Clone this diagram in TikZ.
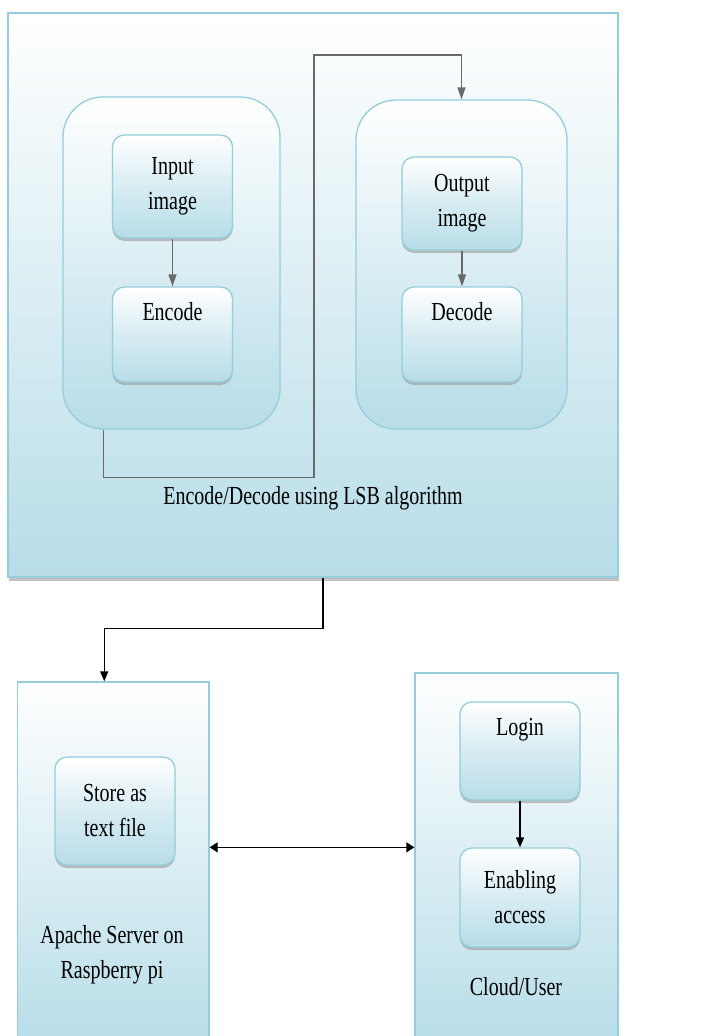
\documentclass[tikz,border=0pt]{standalone}
\usepackage{fontspec}
\setmainfont{Liberation Serif}
\usepackage{graphicx}
\usetikzlibrary{arrows.meta,shadows}
\definecolor{paleblue}{RGB}{183,221,232}
\definecolor{edgeblue}{RGB}{150,205,220}
\definecolor{linegray}{RGB}{105,105,105}
\newcommand{\tall}[1]{\scalebox{1}[1.3]{#1}}

\begin{document}
\begin{tikzpicture}
[x=1pt,y=-1pt,
panel/.style={draw=edgeblue,line width=1.3pt,top color=white,bottom color=paleblue,inner sep=0pt},
group/.style={panel,rounded corners=40pt},
item/.style={panel,rounded corners=12pt,minimum width=120pt,font=\fontsize{20}{35}\selectfont,
  top color=white,bottom color=paleblue,middle color=white!45!paleblue,
  drop shadow={shadow xshift=0pt,shadow yshift=-3pt,fill=black!40,opacity=.6}},
caption/.style={font=\fontsize{20}{35}\selectfont,align=center},
flow/.style={draw=linegray,line width=1.3pt,-{Triangle[length=12pt,width=8pt]}},
link/.style={draw=black,line width=1.3pt,-{Triangle[length=10pt,width=8pt]}}]
\clip (0,0) rectangle (724,1036);

% encoding / decoding block
\node[panel,minimum width=610pt,minimum height=564pt,
  drop shadow={shadow xshift=1pt,shadow yshift=-4pt,fill=black!40,opacity=.6}] (lsb) at (313,295) {};
\node[group,minimum width=217pt,minimum height=332pt] (enc) at (171.5,263) {};
\node[group,minimum width=211pt,minimum height=329pt] (dec) at (461.5,264.5) {};
\node[item,align=center,minimum height=103pt] (inp) at (172.5,186.5) {\tall{Input}\\\tall{image}};
\node[item,text height=33pt,text depth=62pt] (encd) at (172.5,334.5) {\tall{Encode}};
\node[item,align=center,minimum height=93pt] (outp) at (462,203.5) {\tall{Output}\\\tall{image}};
\node[item,text height=33pt,text depth=62pt] (decd) at (462,334.5) {\tall{Decode}};
\node[caption] (lsbtxt) at (313,498) {\tall{Encode/Decode using LSB algorithm}};

% server and user
\node[panel,minimum width=191.5pt,minimum height=364pt] (srv) at (113.25,864) {};
\node[item,align=center,minimum height=108pt] (store) at (115,811) {\tall{Store as}\\\tall{text file}};
\node[caption] (srvtxt) at (112,955) {\tall{Apache Server on}\\\tall{Raspberry pi}};
\node[panel,minimum width=203pt,minimum height=373pt] (usr) at (516.5,859.5) {};
\node[item,text height=33pt,text depth=65pt] (login) at (520,751) {\tall{Login}};
\node[item,align=center,minimum height=99pt] (ena) at (520,897.5) {\tall{Enabling}\\\tall{access}};
\node[caption] (usrtxt) at (516,987) {\tall{Cloud/User}};

\draw[flow] (inp) -- (encd);
\draw[flow] (outp) -- (decd);
\draw[flow] ([xshift=-68pt]enc.south) -- ++(0,48) -| (314,55) -| (dec.north);
\draw[link] ([xshift=10pt]lsb.south) -- ++(0,51) -| ([xshift=-9pt]srv.north);
\draw[link] (login) -- (ena);
\draw[link,{Triangle[length=8pt,width=10pt]}-{Triangle[length=8pt,width=10pt]}] (srv.east |- ena.north) -- (usr.west |- ena.north);
\end{tikzpicture}
\end{document}
